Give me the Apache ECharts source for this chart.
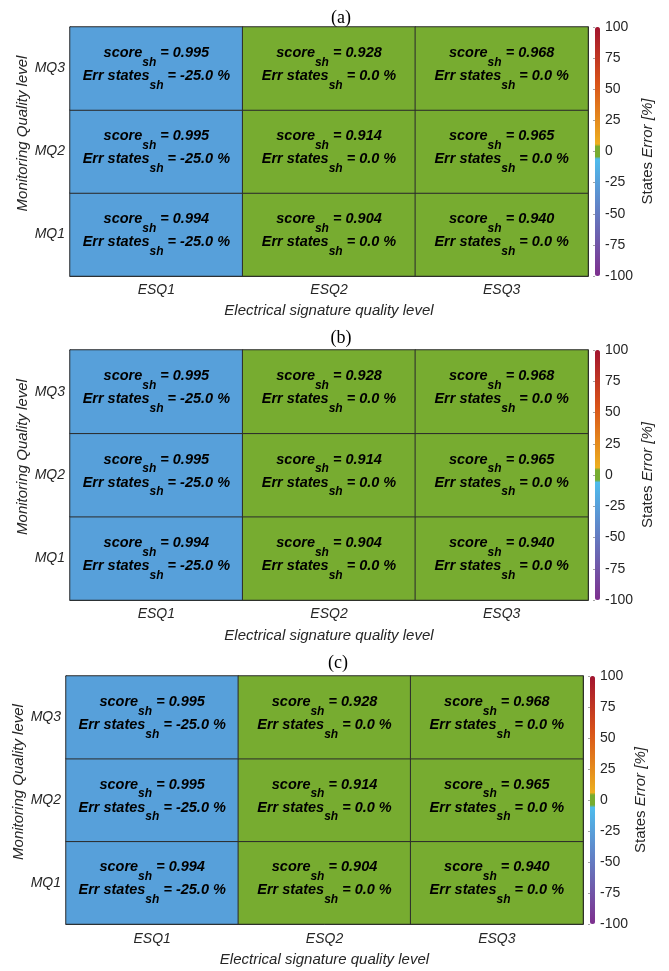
<!DOCTYPE html>
<html lang="en">

<head>
    <meta charset="UTF-8">
    <title>States error heatmaps</title>
    <script src="https://cdn.jsdelivr.net/npm/echarts@6/dist/echarts.min.js"></script>
    <style>
        body { margin: 0; background: #fff; }
    </style>
</head>

<body>
    <div id="main" style="width: 669px;height:971px;"></div>
    <script type="text/javascript">
        // categories
        var esqLabels = ['ESQ1', 'ESQ2', 'ESQ3'];
        var mqLabels = ['MQ1', 'MQ2', 'MQ3'];
        var panelNames = ['(a)', '(b)', '(c)'];

        // rows = MQ1..MQ3, columns = ESQ1..ESQ3
        var scoreA = [[0.994, 0.904, 0.940], [0.995, 0.914, 0.965], [0.995, 0.928, 0.968]];
        var errA = [[-25.0, 0.0, 0.0], [-25.0, 0.0, 0.0], [-25.0, 0.0, 0.0]];
        var scoreB = [[0.994, 0.904, 0.940], [0.995, 0.914, 0.965], [0.995, 0.928, 0.968]];
        var errB = [[-25.0, 0.0, 0.0], [-25.0, 0.0, 0.0], [-25.0, 0.0, 0.0]];
        var scoreC = [[0.994, 0.904, 0.940], [0.995, 0.914, 0.965], [0.995, 0.928, 0.968]];
        var errC = [[-25.0, 0.0, 0.0], [-25.0, 0.0, 0.0], [-25.0, 0.0, 0.0]];

        // colorbar tick labels
        var cbTicks = [-100, -75, -50, -25, 0, 25, 50, 75, 100];

        var scores = [scoreA, scoreB, scoreC];
        var errs = [errA, errB, errC];

        // layout of each panel (plot box + colorbar)
        var boxes = [
            { left: 70, top: 27, width: 518, height: 249, cbLeft: 595, title: 336, titleTop: 4, lblMargin: 7, nameGap: 27, cbGap: 40 },
            { left: 70, top: 350, width: 518, height: 250, cbLeft: 595, title: 336, titleTop: 324, lblMargin: 7, nameGap: 28, cbGap: 40 },
            { left: 66, top: 676, width: 517, height: 248, cbLeft: 590, title: 333, titleTop: 649, lblMargin: 8, nameGap: 28, cbGap: 38 }
        ];

        // MATLAB-like colormap: purple -> light blue, green around 0, yellow -> red
        function hex(c) { return [parseInt(c.substr(1, 2), 16), parseInt(c.substr(3, 2), 16), parseInt(c.substr(5, 2), 16)]; }
        function mix(a, b, t) {
            var A = hex(a), B = hex(b);
            return 'rgb(' + [0, 1, 2].map(function (i) { return Math.round(A[i] + (B[i] - A[i]) * t); }).join(',') + ')';
        }
        function colorAt(v) {
            if (v <= -5) return mix('#4DBEEE', '#7E2F8E', (-5 - v) / 95);
            if (v < 5) return '#77AC30';
            if (v <= 55) return mix('#EDB120', '#D95319', (v - 5) / 50);
            return mix('#D95319', '#A2142F', (v - 55) / 45);
        }
        var cmap = [];
        for (var v = cbTicks[0]; v <= cbTicks[cbTicks.length - 1]; v++) cmap.push(colorAt(v));

        var txt = '#262626';
        var font = 'Liberation Sans, Arial, sans-serif';

        var option = {
            animation: false,
            backgroundColor: '#fff',
            title: [], grid: [], xAxis: [], yAxis: [], visualMap: [], series: []
        };

        boxes.forEach(function (b, p) {
            var g = p * 2;
            option.title.push({
                text: panelNames[p], left: b.title, top: b.titleTop, textAlign: 'center',
                textStyle: { fontFamily: 'Liberation Serif, serif', fontSize: 18, fontWeight: 'normal', color: '#000' }
            });
            option.grid.push({ left: b.left, top: b.top, width: b.width, height: b.height });
            option.grid.push({ left: b.cbLeft, top: b.top, width: 5, height: b.height });

            var tick = { show: true, inside: true, alignWithLabel: true, length: 4, lineStyle: { color: '#555' } };
            var line = { show: true, lineStyle: { color: txt, width: 1 } };
            option.xAxis.push({
                type: 'category', gridIndex: g, data: esqLabels, position: 'bottom',
                axisLine: line, axisTick: tick,
                axisLabel: { margin: b.lblMargin, color: txt, fontStyle: 'italic', fontSize: 14, fontFamily: font },
                name: 'Electrical signature quality level', nameLocation: 'middle', nameGap: b.nameGap, nameMoveOverlap: false,
                nameTextStyle: { color: txt, fontStyle: 'italic', fontSize: 15, fontFamily: font }
            });
            option.xAxis.push({
                type: 'category', gridIndex: g, data: esqLabels, position: 'top',
                axisLine: line, axisTick: tick, axisLabel: { show: false }
            });
            option.xAxis.push({
                type: 'value', gridIndex: g + 1, show: false
            });
            option.yAxis.push({
                type: 'category', gridIndex: g, data: mqLabels, position: 'left',
                axisLine: line, axisTick: tick,
                axisLabel: { margin: 5, color: txt, fontStyle: 'italic', fontSize: 14, fontFamily: font },
                name: 'Monitoring Quality level', nameLocation: 'middle', nameRotate: 90, nameGap: 40, nameMoveOverlap: false,
                nameTextStyle: { color: txt, fontStyle: 'italic', fontSize: 15, fontFamily: font, padding: [0, 0, 0, 36] }
            });
            option.yAxis.push({
                type: 'category', gridIndex: g, data: mqLabels, position: 'right',
                axisLine: line, axisTick: tick, axisLabel: { show: false }
            });
            option.yAxis.push({
                type: 'value', gridIndex: g + 1, position: 'right',
                min: cbTicks[0], max: cbTicks[cbTicks.length - 1], interval: cbTicks[1] - cbTicks[0],
                splitLine: { show: false }, axisLine: { show: false },
                axisTick: { show: true, inside: true, length: 2, lineStyle: { color: 'rgba(0,0,0,0.35)' } },
                axisLabel: { margin: 5, color: txt, fontSize: 14, fontFamily: font },
                name: '{n|States }{i|Error [%]}', nameLocation: 'middle', nameRotate: 90, nameGap: b.cbGap, nameMoveOverlap: false,
                nameTextStyle: {
                    color: txt, fontSize: 15, fontFamily: font,
                    rich: { n: { fontSize: 15, color: txt, fontFamily: font }, i: { fontSize: 15, color: txt, fontStyle: 'italic', fontFamily: font } }
                }
            });

            option.visualMap.push({
                type: 'continuous', seriesIndex: p, min: cbTicks[0], max: cbTicks[cbTicks.length - 1],
                left: b.cbLeft, top: b.top, itemWidth: 5, itemHeight: b.height, padding: 0,
                calculable: false, hoverLink: false, text: null, showLabel: false,
                inRange: { color: cmap }
            });

            var data = [];
            for (var r = 0; r < mqLabels.length; r++) {
                for (var c = 0; c < esqLabels.length; c++) {
                    data.push([c, r, errs[p][r][c]]);
                }
            }
            var sc = scores[p], er = errs[p];
            option.series.push({
                type: 'heatmap', xAxisIndex: p * 3, yAxisIndex: p * 3, data: data,
                itemStyle: { borderColor: '#2b2b2b', borderWidth: 1 },
                emphasis: { disabled: true },
                label: {
                    show: true,
                    formatter: function (prm) {
                        var c = prm.data[0], r = prm.data[1];
                        return '{m|score}{s|sh}{m| = ' + sc[r][c].toFixed(3) + '}\n' +
                            '{m|Err states}{s|sh}{m| = ' + er[r][c].toFixed(1) + ' %}';
                    },
                    rich: {
                        m: { fontSize: 14.5, fontWeight: 'bold', fontStyle: 'italic', fontFamily: font, color: '#000', lineHeight: 23, verticalAlign: 'top' },
                        s: { fontSize: 12, fontWeight: 'bold', fontStyle: 'italic', fontFamily: font, color: '#000', lineHeight: 23, verticalAlign: 'top', padding: [11, 0, 0, 0] }
                    }
                }
            });
        });

        var chart = echarts.init(document.getElementById('main'));
        chart.setOption(option);
    </script>
</body>

</html>
